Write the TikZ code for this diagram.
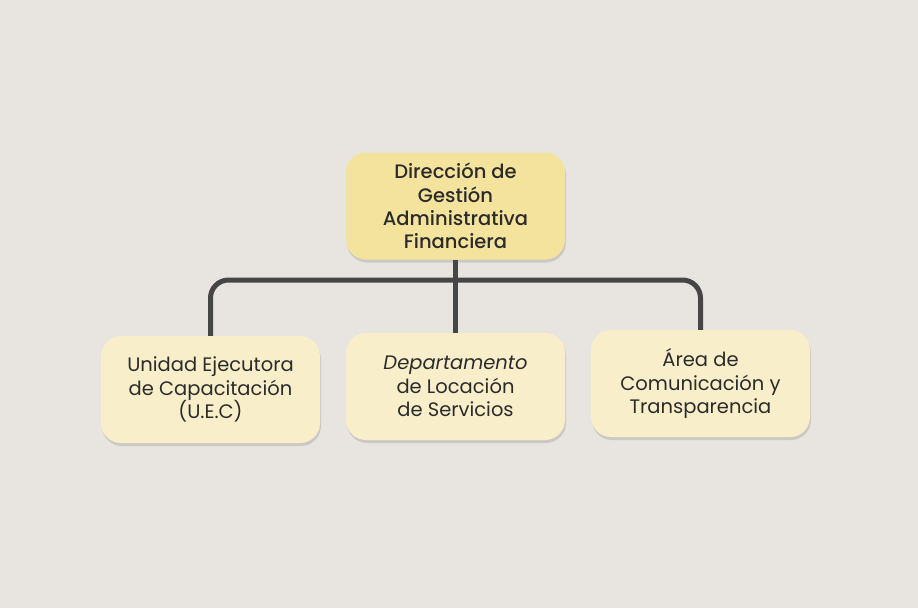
\documentclass[tikz,border=0pt]{standalone}
\usepackage{fontspec}
\setmainfont{Poppins}
\newfontfamily\medio{Poppins Medium}
\usepackage{tikz}
\usetikzlibrary{shadows}

\definecolor{fondo}{HTML}{E8E5E0}
\definecolor{oro}{HTML}{F4E39C}
\definecolor{crema}{HTML}{F8EECA}
\definecolor{tinta}{HTML}{2B2B2B}
\definecolor{gris}{HTML}{464646}

\begin{document}
\begin{tikzpicture}[x=1pt, y=-1pt, node distance=245pt]
    \tikzstyle{caja} = [rounded corners=20pt, minimum width=219pt,
	minimum height=107pt, align=center, text=tinta, font=\fontsize{19.5}{23.3}\selectfont,
	drop shadow={shadow xshift=1pt, shadow yshift=-3pt, opacity=0.12, fill=black}]
    \tikzstyle{jefe} = [caja, fill=oro, font=\medio\fontsize{19.5}{23.3}\selectfont]
    \tikzstyle{area} = [caja, fill=crema]
    \tikzstyle{linea} = [draw=gris, line width=5pt, rounded corners=18pt]
	\fill[fondo] (0,0) rectangle (918,608);
	\node[jefe] (D) at (455.5,206) {Dirección de\\Gestión\\Administrativa\\Financiera};
	\node[area] (S) at (455.5,386.5) {\textit{Departamento}\\de Locación\\de Servicios};
	\node[area, left of=S, yshift=-3pt] (U) {Unidad Ejecutora\\de Capacitación\\(U.E.C)};
	\node[area, right of=S, yshift=3pt] (A) {Área de\\Comunicación y\\Transparencia};
	\coordinate (cruce) at (455.5,280);
	\path[linea] (U.north) |- (cruce) -| (A.north);
	\path[linea] (D.south) -- (S.north);
\end{tikzpicture}
\end{document}
